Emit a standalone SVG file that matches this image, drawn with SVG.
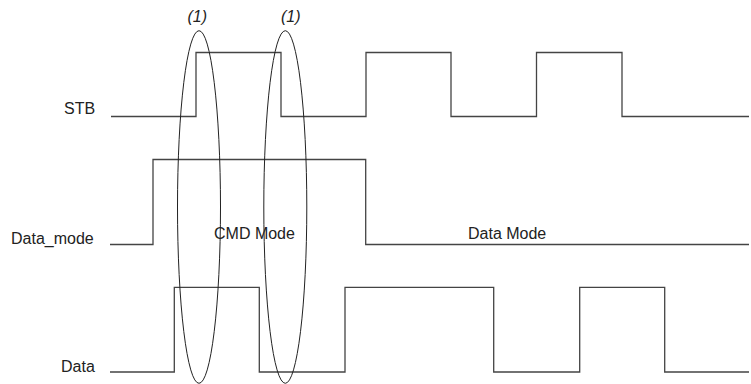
<svg xmlns="http://www.w3.org/2000/svg" width="751" height="384" viewBox="0 0 751 384">
<style>
.sig{fill:none;stroke:#444;stroke-width:1.3;stroke-linejoin:miter}
.ell{fill:none;stroke:#222;stroke-width:1}
.lbl{font-family:"Liberation Sans",Arial,sans-serif;font-size:16px;fill:#222}
.note{font-family:"Liberation Sans",Arial,sans-serif;font-size:16px;font-style:italic;fill:#222;text-anchor:middle}
</style>
<rect width="751" height="384" fill="#fff"/>
<g id="signals">
<g id="stb">
<text class="lbl" x="64" y="114">STB</text>
<path class="sig" d="M111,116.5 H196 V52.5 H281 V116.5 H366 V52.5 H451 V116.5 H536.5 V52.5 H622 V116.5 H749"/>
</g>
<g id="data_mode">
<text class="lbl" x="11" y="244">Data_mode</text>
<path class="sig" d="M110,244.5 H153 V159.5 H365.7 V244.5 H749"/>
</g>
<g id="data">
<text class="lbl" x="61" y="372">Data</text>
<path class="sig" d="M110,372 H174.3 V287.3 H259.3 V372 H345 V287.3 H493.7 V372 H579.7 V287.3 H664.7 V372 H749"/>
</g>
<g id="mode-labels">
<text class="lbl" x="214" y="239">CMD Mode</text>
<text class="lbl" x="468" y="239">Data Mode</text>
</g>
</g>
<g id="markers">
<g id="marker1">
<ellipse class="ell" cx="199" cy="207" rx="21.5" ry="176.3"/>
<text class="note" x="197.3" y="21.5">(1)</text>
</g>
<g id="marker2">
<ellipse class="ell" cx="285.3" cy="207" rx="21.5" ry="176.3"/>
<text class="note" x="290.7" y="21.5">(1)</text>
</g>
</g>
</svg>
